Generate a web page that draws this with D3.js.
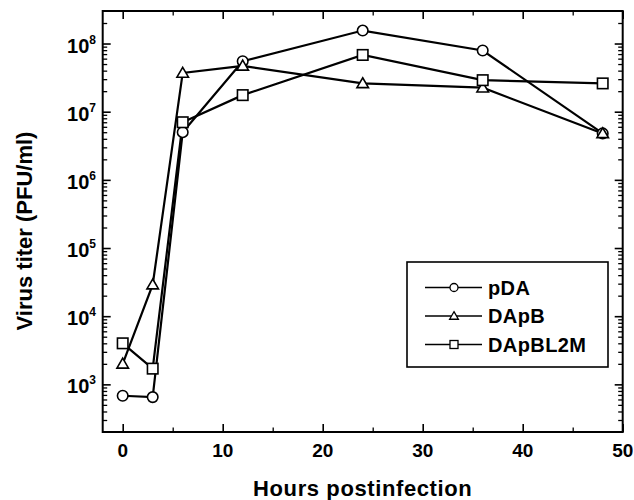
<!DOCTYPE html>
<html>
<head>
<meta charset="utf-8">
<script src="https://cdn.jsdelivr.net/npm/d3@7"></script>
<style>
  body { margin: 0; background: #fff; }
  svg { display: block; font-family: "Liberation Sans", Arial, sans-serif; font-weight: bold; }
</style>
</head>
<body>
<div class="chart"></div>
<script>
// data
var hours = [0, 3, 6, 12, 24, 36, 48];
var pDA = [680, 650, 5e6, 5.5e7, 1.55e8, 7.9e7, 4.8e6];
var DApB = [2000, 2.9e4, 3.7e7, 4.7e7, 2.6e7, 2.25e7, 4.8e6];
var DApBL2M = [4000, 1700, 7e6, 1.75e7, 6.8e7, 2.9e7, 2.6e7];
var seriesNames = ['pDA', 'DApB', 'DApBL2M'];
var seriesShapes = ['circle', 'triangle', 'square'];
var xTicks = [0, 10, 20, 30, 40, 50];
var xMinor = [5, 15, 25, 35, 45];
var yExponents = [3, 4, 5, 6, 7, 8];

var W = 634, H = 500;
var pLeft = 102.7, pRight = 622.7, pTop = 11, pBottom = 432;

var svg = d3.select('.chart')
  .append('svg')
  .attr('width', W)
  .attr('height', H);

var x = d3.scaleLinear().domain([-2, 50]).range([pLeft, pRight]);
var y = d3.scaleLog().domain([200, 3e8]).range([pBottom, pTop]);

// minor log ticks 2..9 per decade
var yMinor = [];
for (var e = 2; e <= 8; e++) {
  for (var m = 2; m <= 9; m++) {
    var v = m * Math.pow(10, e);
    if (v > 200 && v < 3e8) yMinor.push(v);
  }
}
var yMajor = yExponents.map(function(e) { return Math.pow(10, e); });

function tickAxis(axis, vals, size) {
  return axis.tickValues(vals).tickSize(size).tickFormat('');
}

// major and minor ticks on all four sides, pointing inward
[
  [d3.axisBottom, x, 'translate(0,' + pBottom + ')', xTicks, xMinor],
  [d3.axisTop, x, 'translate(0,' + pTop + ')', xTicks, xMinor],
  [d3.axisLeft, y, 'translate(' + pLeft + ',0)', yMajor, yMinor],
  [d3.axisRight, y, 'translate(' + pRight + ',0)', yMajor, yMinor]
].forEach(function(a) {
  var gMaj = svg.append('g').attr('transform', a[2])
    .call(tickAxis(a[0](a[1]), a[3], -8));
  gMaj.select('.domain').remove();
  gMaj.selectAll('line').attr('stroke-width', 1.6);
  var gMin = svg.append('g').attr('transform', a[2])
    .call(tickAxis(a[0](a[1]), a[4], -4.5));
  gMin.select('.domain').remove();
  gMin.selectAll('line').attr('stroke-width', 1.3);
});

// frame
svg.append('rect')
  .attr('x', pLeft).attr('y', pTop)
  .attr('width', pRight - pLeft).attr('height', pBottom - pTop)
  .attr('fill', 'none').attr('stroke', '#000').attr('stroke-width', 2);

// x tick labels
svg.selectAll('.xlab')
  .data(xTicks)
  .enter()
  .append('text')
  .attr('x', function(d) { return x(d); })
  .attr('y', 457)
  .attr('text-anchor', 'middle')
  .style('font-size', '19px')
  .text(function(d) { return d; });

// y tick labels 10^n
var ylab = svg.selectAll('.ylab')
  .data(yExponents)
  .enter()
  .append('text')
  .attr('x', 96)
  .attr('y', function(d) { return y(Math.pow(10, d)) + 9; })
  .attr('text-anchor', 'end')
  .style('font-size', '20px');
ylab.append('tspan').text('10');
ylab.append('tspan')
  .attr('dy', -9)
  .style('font-size', '12px')
  .text(function(d) { return d; });

// axis titles
svg.append('text')
  .attr('x', (pLeft + pRight) / 2)
  .attr('y', 496)
  .attr('text-anchor', 'middle')
  .style('font-size', '22px')
  .style('letter-spacing', '0.6px')
  .text('Hours postinfection');

svg.append('text')
  .attr('transform', 'translate(32,231) rotate(-90)')
  .attr('text-anchor', 'middle')
  .style('font-size', '22px')
  .text('Virus titer (PFU/ml)');

// series
var allSeries = [pDA, DApB, DApBL2M];
var line = d3.line()
  .x(function(d, i) { return x(hours[i]); })
  .y(function(d) { return y(d); });

function drawMarker(g, shape, cx, cy, s) {
  if (shape === 'circle') {
    g.append('circle').attr('cx', cx).attr('cy', cy).attr('r', s * 0.5);
  } else if (shape === 'triangle') {
    var h = s * 0.9;
    g.append('path').attr('d', 'M' + cx + ',' + (cy - h * 0.6) +
      'L' + (cx + s * 0.55) + ',' + (cy + h * 0.45) +
      'L' + (cx - s * 0.55) + ',' + (cy + h * 0.45) + 'Z');
  } else {
    g.append('rect').attr('x', cx - s / 2).attr('y', cy - s / 2)
      .attr('width', s).attr('height', s);
  }
}

allSeries.forEach(function(vals) {
  svg.append('path')
    .datum(vals)
    .attr('d', line)
    .attr('fill', 'none')
    .attr('stroke', '#000')
    .attr('stroke-width', 2.2);
});
allSeries.forEach(function(vals, k) {
  var g = svg.append('g').attr('fill', '#fff').attr('stroke', '#000').attr('stroke-width', 1.6);
  vals.forEach(function(v, i) {
    drawMarker(g, seriesShapes[k], x(hours[i]), y(v), 10.5);
  });
});

// legend
var lg = svg.append('g');
lg.append('rect')
  .attr('x', 407).attr('y', 262).attr('width', 201).attr('height', 105)
  .attr('fill', '#fff').attr('stroke', '#000').attr('stroke-width', 1.6);
seriesNames.forEach(function(name, k) {
  var yy = 287.5 + k * 28.5;
  lg.append('line')
    .attr('x1', 425).attr('x2', 482).attr('y1', yy).attr('y2', yy)
    .attr('stroke', '#000').attr('stroke-width', 1.6);
  var mg = lg.append('g').attr('fill', '#fff').attr('stroke', '#000').attr('stroke-width', 1.3);
  drawMarker(mg, seriesShapes[k], 454, yy, 8);
  lg.append('text')
    .attr('x', 488).attr('y', yy + 7)
    .style('font-size', '20px')
    .style('letter-spacing', '0.4px')
    .text(name);
});
</script>
</body>
</html>
